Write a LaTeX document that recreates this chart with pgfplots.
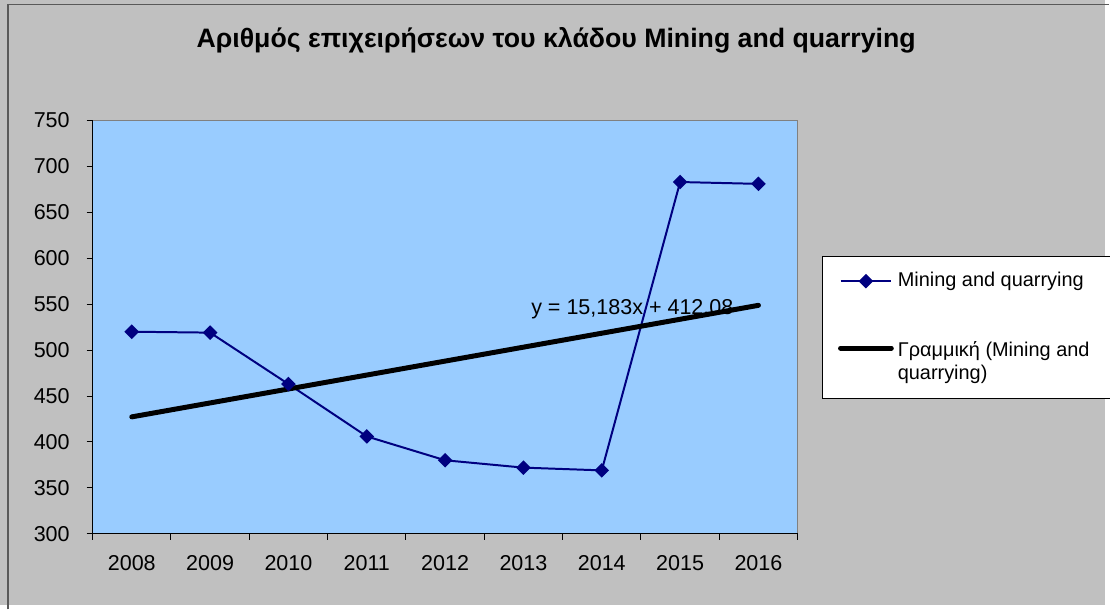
\documentclass[border=0pt]{standalone}
\usepackage{fontspec}
\setmainfont{Liberation Sans}
\usepackage{pgfplots}
\pgfplotsset{compat=1.18}
\definecolor{bg}{HTML}{C0C0C0}
\definecolor{plotbg}{HTML}{99CCFF}
\definecolor{navy}{HTML}{000080}
\pgfplotsset{trendlegend/.style={legend image code/.code={\draw[##1] (1pt,7pt) -- (26.5pt,7pt);}}}
\begin{document}
\begin{tikzpicture}[x=1pt,y=1pt]
\fill[bg] (0,0) rectangle (555,304);
\draw[color=black!65, line width=0.7pt] (4,-2) -- (4,301.8) -- (557,301.8);
\useasboundingbox (0,0) rectangle (555,304);
\node[font=\bfseries\fontsize{13.4}{15}\selectfont] at (279.2,284) {Αριθμός επιχειρήσεων του κλάδου Mining and quarrying};
\begin{axis}[
  at={(46.5pt,36pt)}, anchor=south west,
  scale only axis, width=354pt, height=207.5pt,
  xmin=0.5, xmax=9.5, ymin=300, ymax=750,
  axis x line*=bottom, axis y line*=left,
  axis line style={black, line width=0.6pt},
  axis background/.style={fill=plotbg, draw=black!50, line width=0.6pt},
  xtick={0.5,1.5,...,9.5},
  x tick label as interval,
  xticklabels={2008,2009,2010,2011,2012,2013,2014,2015,2016},
  ytick={300,350,...,750},
  tick align=outside, major tick length=3pt,
  tick style={black, line width=0.5pt},
  ticklabel style={font=\fontsize{10.8}{12}\selectfont},
  /pgf/number format/assume math mode=true,
  yticklabel style={xshift=-5pt},
  xticklabel style={yshift=-4.5pt},
  clip=false,
  legend style={at={(1.0339,0.6723)}, anchor=north west, draw=black, fill=white,
    line width=0.6pt,
    font=\fontsize{10}{12}\selectfont, row sep=22pt, inner xsep=8pt, inner ysep=6pt},
  legend cell align=left,
  legend image code/.code={\draw[mark repeat=2,mark phase=2,#1] plot coordinates {(1pt,0pt) (13.75pt,0pt) (26.5pt,0pt)};},
]
\addplot[navy, line width=1pt, mark=square*, mark size=2.1pt, mark options={rotate=45, solid}]
  coordinates {(1,520)(2,519)(3,463)(4,406)(5,380)(6,372)(7,369)(8,683)(9,681)};
\addlegendentry{Mining and quarrying}
\addplot[black, line width=2.5pt, line cap=round, trendlegend]
  coordinates {(1,427.26)(9,548.73)};
\addlegendentry{\parbox[b]{110pt}{\baselineskip=11.5pt Γραμμική (Mining and\\quarrying)}}
\node[font=\fontsize{10.8}{12}\selectfont] at (axis cs:7.39,545) {y = 15,183x + 412,08};
\end{axis}
\end{tikzpicture}
\end{document}
